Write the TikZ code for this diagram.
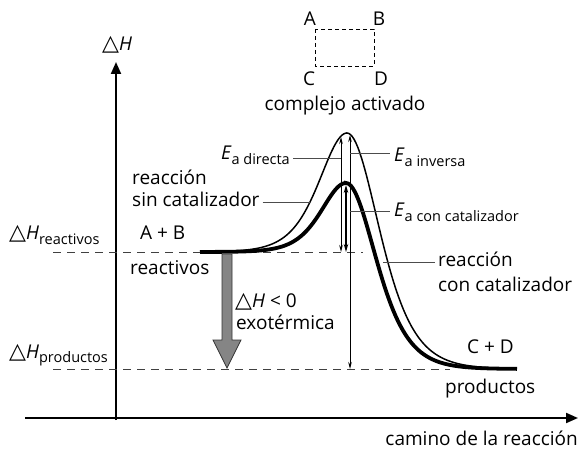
\documentclass[tikz,border=0pt]{standalone}
\usepackage{fontspec}
\setmainfont{Open Sans}
\newfontfamily\dvfont{DejaVu Sans}
\usetikzlibrary{arrows.meta}
\newcommand{\tri}{{\dvfont\fontsize{22}{18}\selectfont △}}
\newcommand{\dHsym}{\tri\textit{H}}
\newcommand{\lowsub}[1]{\raisebox{-4.5pt}{\fontsize{14.5}{15}\selectfont #1}}
\begin{document}
\begin{tikzpicture}[x=1pt,y=-1pt,
  txt/.style={inner sep=0pt, font=\fontsize{19}{22}\selectfont},
  axis/.style={line width=2pt, -{Triangle[length=12pt,width=10pt]}},
  dashline/.style={line width=0.9pt, draw=black!75, dash pattern=on 8pt off 6pt},
  pointer/.style={line width=0.9pt, draw=black!70},
  thincurve/.style={line width=1.5pt},
  thickcurve/.style={line width=3.8pt},
  ea/.style={line width=0.8pt, {Stealth[length=7pt,width=3.5pt]}-{Stealth[length=7pt,width=3.5pt]}},
  eacat/.style={line width=1.4pt, {Stealth[length=8pt,width=4.5pt]}-{Stealth[length=8pt,width=4.5pt]}},
  bigarrow/.style={fill=black!48, draw=black!80, line width=0.8pt}]
\useasboundingbox (0,0) rectangle (584,449);

% axes
\coordinate (yb) at (116,420);
\coordinate (yt) at (116,62);
\coordinate (xl) at (25,418);
\coordinate (xr) at (578,418);
\draw[axis] (yb) -- (yt);
\draw[axis] (xl) -- (xr);

% dashed levels
\coordinate (rl) at (53,252);
\coordinate (rr) at (363,252);
\coordinate (pl) at (53,369);
\coordinate (pr) at (450,369);
\draw[dashline] (rl) -- (rr);
\draw[dashline] (pl) -- (pr);

% activated complex box
\coordinate (bx1) at (315,29);
\coordinate (bx2) at (374,66);
\draw[line width=0.8pt, dash pattern=on 4pt off 3pt] (bx1) rectangle (bx2);
\node[txt] (A) at (310,19) {A};
\node[txt] (B) at (379,19) {B};
\node[txt] (C) at (309,79) {C};
\node[txt] (D) at (381,79) {D};
\node[txt, anchor=base] (complejo) at (345,111) {complejo activado};

% curves
\draw[thincurve] plot[domain=200:347, samples=90] ({\x},{252-119*4/(exp((\x-347)/37)+exp(-(\x-347)/37))^2})
  -- plot[domain=347:505, samples=90] ({\x},{369-236*4/(exp((\x-347)/43)+exp(-(\x-347)/43))^2});
\draw[thickcurve] plot[domain=200:346, samples=90] ({\x},{252-69*4/(exp((\x-346)/33)+exp(-(\x-346)/33))^2})
  -- plot[domain=346:517, samples=100] ({\x},{369-186*4/(exp((\x-346)/40)+exp(-(\x-346)/40))^2});

% activation energy arrows
\coordinate (d1) at (341,252);
\coordinate (d2) at (341,137);
\coordinate (i1) at (350,135);
\coordinate (i2) at (350,369);
\coordinate (c1) at (346,185);
\coordinate (c2) at (346,252);
\draw[ea] (d1) -- (d2);
\draw[ea] (i1) -- (i2);
\draw[eacat] (c1) -- (c2);

% exothermic arrow
\draw[bigarrow] (222,254) -- (232,254) -- (232,340) -- (241,340) -- (227,368) -- (213,340) -- (222,340) -- cycle;

% labels
\node[txt, anchor=base west] (dH) at (102,51) {\dHsym};
\node[txt, anchor=base west] (dHr) at (9,240) {\dHsym\lowsub{reactivos}};
\node[txt, anchor=base west] (dHp) at (9,358) {\dHsym\lowsub{productos}};
\node[txt, anchor=base west] (AB) at (140,240) {A + B};
\node[txt, anchor=base west] (reac) at (130,275) {reactivos};
\node[txt, anchor=base west] (exo1) at (235,308) {\dHsym\ {<}\ 0};
\node[txt, anchor=base west] (exo2) at (236,329) {exotérmica};
\node[txt, anchor=base west] (sin1) at (132,185) {reacción};
\node[txt, anchor=base west] (sin2) at (132,207) {sin catalizador};
\node[txt, anchor=base east] (Ead) at (290,160) {\textit{E}\lowsub{a directa}};
\node[txt, anchor=base west] (Eai) at (394,162) {\textit{E}\lowsub{a inversa}};
\node[txt, anchor=base west] (Eac) at (394,217) {\textit{E}\lowsub{a con catalizador}};
\node[txt, anchor=base west] (con1) at (438,267) {reacción};
\node[txt, anchor=base west] (con2) at (438,291) {con catalizador};
\node[txt, anchor=base west] (CD) at (467,353) {C + D};
\node[txt, anchor=base west] (prod) at (445,393) {productos};
\node[txt, anchor=base east] (camino) at (578,445) {camino de la reacción};

% pointer lines
\draw[pointer] ([xshift=3pt]Ead.east |- 0,158) -- (341,158);
\draw[pointer] (350,153) -- ([xshift=-4pt]Eai.west |- 0,153);
\draw[pointer] (350,211) -- ([xshift=-4pt]Eac.west |- 0,211);
\draw[pointer] ([xshift=3pt]sin2.east |- 0,202) -- (311,202);
\draw[pointer] (383,262) -- ([xshift=-3pt]con1.west |- 0,262);
\end{tikzpicture}
\end{document}
